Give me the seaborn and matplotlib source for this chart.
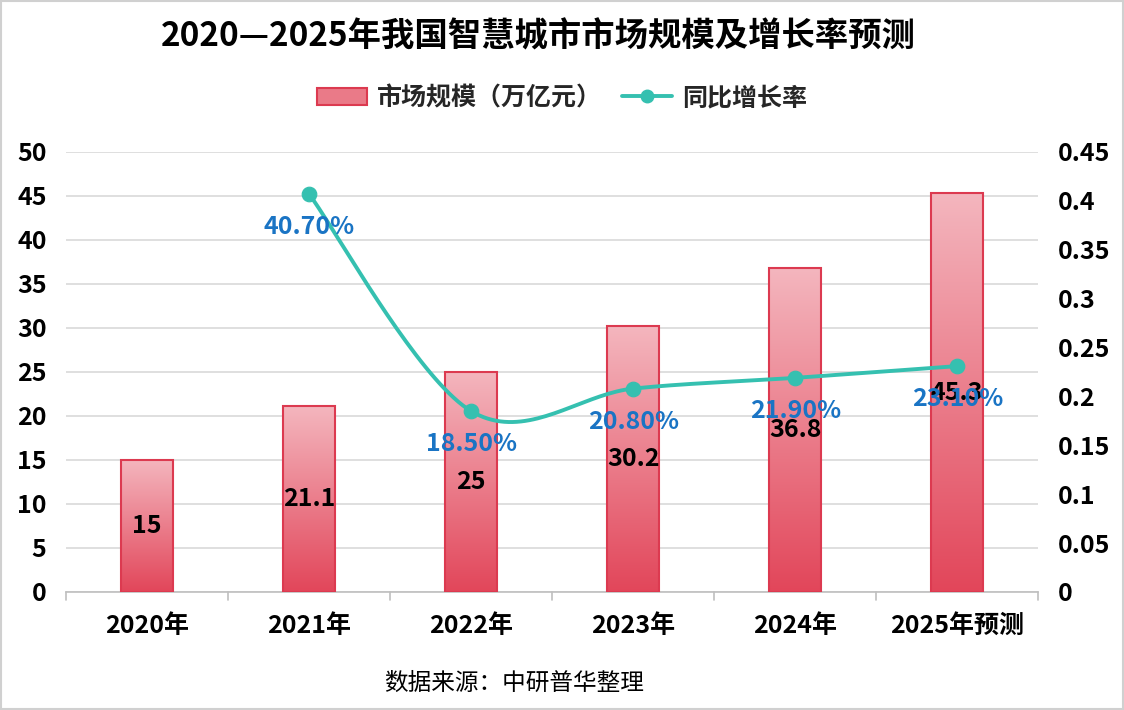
import numpy as np
import pandas as pd
import matplotlib
matplotlib.use('Agg')
import matplotlib.pyplot as plt
import seaborn as sns
from matplotlib.patches import Rectangle
from matplotlib.lines import Line2D
from matplotlib.colors import LinearSegmentedColormap

years = ['2020年', '2021年', '2022年', '2023年', '2024年', '2025年预测']
scale = [15, 21.1, 25, 30.2, 36.8, 45.3]
growth_years = ['2021年', '2022年', '2023年', '2024年', '2025年预测']
growth = [0.407, 0.185, 0.208, 0.219, 0.231]
growth_labels = ['40.70%', '18.50%', '20.80%', '21.90%', '23.10%']
right_ticks = ['0', '0.05', '0.1', '0.15', '0.2', '0.25', '0.3', '0.35', '0.4', '0.45']

sns.set_theme(style='white')
plt.rcParams['font.family'] = ['Noto Sans CJK SC', 'DejaVu Sans']

df = pd.DataFrame({'year': years, 'scale': scale})
dg = pd.DataFrame({'year': growth_years, 'growth': growth})
dg['x'] = [years.index(y) for y in growth_years]

fig = plt.figure(figsize=(11.24, 7.10), dpi=100)
ax = fig.add_axes([0.0587, 0.1662, 0.865, 0.6198])
ax2 = ax.twinx()

bar_edge = '#dc3a50'
sns.barplot(data=df, x='year', y='scale', ax=ax, width=0.32, color='#e8707e',
            edgecolor=bar_edge, linewidth=1.5, zorder=2)

# gradient fill for bars
cmap = LinearSegmentedColormap.from_list('bar', ['#e2465a', '#f4b6be'])
grad = np.linspace(0, 1, 256).reshape(-1, 1)
for p in ax.patches:
    x0, y0 = p.get_x(), p.get_y()
    w, h = p.get_width(), p.get_height()
    p.set_facecolor('none')
    im = ax.imshow(grad, cmap=cmap, aspect='auto', origin='lower',
                   extent=[x0, x0 + w, y0, y0 + h], zorder=2.5)
    im.set_clip_path(p)
    p.set_zorder(3)
ax.set_xlim(-0.5, len(years) - 0.5)
ax.set_ylim(0, 50)
ax.set_yticks(np.arange(0, 51, 5))

for i, v in enumerate(scale):
    ax.text(i, v / 2, f'{v:g}', ha='center', va='center', fontsize=18,
            fontweight='bold', color='black', zorder=6)

ax.grid(axis='y', color='#d9d9d9', linewidth=1.2, zorder=0)
ax.set_axisbelow(True)
ax.set_xlabel('')
ax.set_ylabel('')

# smoothed growth line through the data points
line_color = '#35c0b0'
px = dg['x'].to_numpy(dtype=float)
py = dg['growth'].to_numpy(dtype=float)
P = np.column_stack([px, py])
Pext = np.vstack([P[0], P, P[-1]])
curve = []
t = np.linspace(0, 1, 40)
for k in range(1, len(Pext) - 2):
    p0, p1, p2, p3 = Pext[k - 1], Pext[k], Pext[k + 1], Pext[k + 2]
    c1 = p1 + (p2 - p0) / 6
    c2 = p2 - (p3 - p1) / 6
    seg = ((1 - t) ** 3)[:, None] * p1 + (3 * (1 - t) ** 2 * t)[:, None] * c1 \
        + (3 * (1 - t) * t ** 2)[:, None] * c2 + (t ** 3)[:, None] * p2
    curve.append(seg)
curve = np.vstack(curve)
ax2.plot(curve[:, 0], curve[:, 1], color=line_color, linewidth=2.8, zorder=4,
         solid_capstyle='round')
sns.scatterplot(data=dg, x='x', y='growth', ax=ax2, color=line_color, s=110,
                edgecolor=line_color, zorder=5, legend=False)
for xi, yi, lab in zip(px, py, growth_labels):
    ax2.annotate(lab, (xi, yi), xytext=(0, -24), textcoords='offset points',
                 ha='center', va='center', fontsize=18, fontweight='bold',
                 color='#1a74c4', zorder=7)
ax2.set_yticks(np.arange(0, 0.451, 0.05))
ax2.set_yticklabels(right_ticks)
ax2.set_ylim(0, 0.45)
ax2.set_xlim(-0.5, len(years) - 0.5)
ax2.set_ylabel('')

for a in (ax, ax2):
    for s in ['top', 'left', 'right']:
        a.spines[s].set_visible(False)
    a.spines['bottom'].set_color('#bfbfbf')
    a.spines['bottom'].set_linewidth(1.2)
    a.tick_params(axis='y', length=0, labelsize=18, labelcolor='black')
    for lab in a.get_yticklabels():
        lab.set_fontweight('bold')
ax2.spines['bottom'].set_visible(False)
ax.tick_params(axis='y', pad=14)
ax2.tick_params(axis='y', pad=14)

ax.set_xticks(range(len(years)))
ax.set_xticklabels(years, fontsize=18, fontweight='bold', color='black')
ax.tick_params(axis='x', length=0, pad=16)
for b in np.arange(-0.5, len(years), 1.0):
    ax.plot([b, b], [0, -0.9], color='#bfbfbf', linewidth=1.2, clip_on=False, zorder=1)

fig.text(0.479, 0.948, '2020—2025年我国智慧城市市场规模及增长率预测', ha='center', va='center',
         fontsize=24, fontweight='bold', color='black')

handles = [Rectangle((0, 0), 1, 1, facecolor='#ea7a88', edgecolor=bar_edge, linewidth=1.5),
           Line2D([0], [0], color=line_color, linewidth=2.8, marker='o', markersize=9)]
fig.legend(handles, ['市场规模（万亿元）', '同比增长率'], loc='center', ncol=2,
           bbox_to_anchor=(0.5, 0.862), frameon=False, handlelength=2.0,
           columnspacing=0.8, handletextpad=0.4,
           prop={'size': 18, 'weight': 'bold'})

fig.text(0.457, 0.037, '数据来源：中研普华整理', ha='center', va='center', fontsize=17, color='black')

fig.patches.append(Rectangle((0.001, 0.001), 0.998, 0.998, transform=fig.transFigure,
                             fill=False, edgecolor='#d0d0d0', linewidth=1.5))

fig.savefig('out.png', dpi=100)
